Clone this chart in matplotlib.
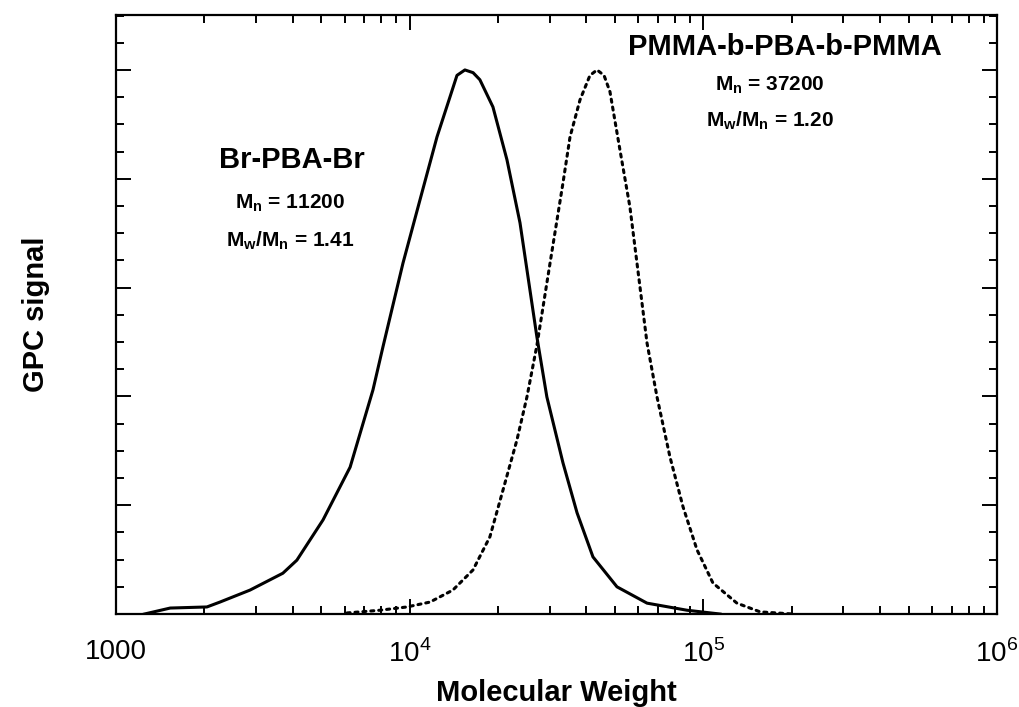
import matplotlib
matplotlib.use("Agg")
import matplotlib.pyplot as plt
from matplotlib.ticker import FixedLocator, FixedFormatter, LogLocator, MultipleLocator, NullFormatter

# Br-PBA-Br (solid curve), molecular weight vs normalised GPC signal
mw_br = [1250, 1530, 2040, 2260, 2860, 3700, 4130, 5070, 6270, 7500, 8110, 9490,
         10840, 12390, 13710, 14490, 15420, 16440, 17340, 19210, 21440, 23750,
         27120, 29320, 33260, 37150, 42080, 50800, 64300, 87900, 114000]
sig_br = [0.0, 0.011, 0.013, 0.022, 0.044, 0.075, 0.099, 0.173, 0.270, 0.412, 0.491, 0.645,
          0.761, 0.877, 0.950, 0.99, 1.0, 0.995, 0.982, 0.932, 0.835, 0.719,
          0.509, 0.399, 0.278, 0.186, 0.105, 0.050, 0.020, 0.007, 0.0]

# PMMA-b-PBA-b-PMMA (dotted curve)
mw_tri = [6120, 7930, 9790, 11730, 14030, 16430, 18760, 20790, 23190, 25080, 27120,
          30060, 33260, 35160, 38020, 41100, 43450, 45900, 48080, 52000, 56230, 59430,
          64300, 69530, 76940, 85270, 95150, 107800, 130100, 156000, 202000]
sig_tri = [0.002, 0.007, 0.013, 0.022, 0.044, 0.081, 0.142, 0.228, 0.320, 0.399, 0.494,
           0.645, 0.792, 0.877, 0.945, 0.99, 1.0, 0.99, 0.96, 0.853, 0.748, 0.645,
           0.498, 0.399, 0.289, 0.197, 0.118, 0.057, 0.020, 0.004, 0.0]

xticks = [1e3, 1e4, 1e5, 1e6]
xticklabels = ['1000', r'10$^\mathregular{4}$', r'10$^\mathregular{5}$', r'10$^\mathregular{6}$']

plt.rcParams['font.family'] = ['Liberation Sans', 'DejaVu Sans']

fig = plt.figure(figsize=(10.2, 7.07), dpi=100)
ax = fig.add_axes([0.1137, 0.1315, 0.8638, 0.8473])

ax.plot(mw_br, sig_br, color='black', lw=2.2, solid_joinstyle='round')
ax.plot(mw_tri, sig_tri, color='black', lw=2.2, linestyle=(0, (1, 1.6)),
        dash_capstyle='round')

ax.set_xscale('log')
ax.set_xlim(1e3, 1e6)
ax.set_ylim(0, 1.101)

ax.xaxis.set_major_locator(FixedLocator(xticks))
ax.xaxis.set_major_formatter(FixedFormatter(xticklabels))
ax.xaxis.set_minor_locator(LogLocator(base=10, subs=range(2, 10)))
ax.xaxis.set_minor_formatter(NullFormatter())
ax.yaxis.set_major_locator(MultipleLocator(0.2))
ax.yaxis.set_minor_locator(MultipleLocator(0.05))
ax.set_yticklabels([])

ax.tick_params(which='both', direction='in', top=True, right=True, width=1.4, colors='black')
ax.tick_params(which='major', length=10.5)
ax.tick_params(which='minor', length=5.5)
ax.tick_params(axis='x', labelsize=20, pad=18)
for s in ax.spines.values():
    s.set_linewidth(1.6)

ax.set_xlabel('Molecular Weight', fontsize=21, fontweight='bold', labelpad=8)
ax.set_ylabel('GPC signal', fontsize=21, fontweight='bold', labelpad=44)

kw = dict(transform=ax.transAxes, ha='center', va='center', fontweight='bold')
ax.text(0.200, 0.758, 'Br-PBA-Br', fontsize=21, **kw)
ax.text(0.1975, 0.686, r'M$_\mathregular{n}$ = 11200', fontsize=15, **kw)
ax.text(0.1975, 0.624, r'M$_\mathregular{w}$/M$_\mathregular{n}$ = 1.41', fontsize=15, **kw)
ax.text(0.759, 0.947, 'PMMA-b-PBA-b-PMMA', fontsize=21, **kw)
ax.text(0.742, 0.883, r'M$_\mathregular{n}$ = 37200', fontsize=15, **kw)
ax.text(0.742, 0.824, r'M$_\mathregular{w}$/M$_\mathregular{n}$ = 1.20', fontsize=15, **kw)

fig.savefig('out.png', dpi=100)
